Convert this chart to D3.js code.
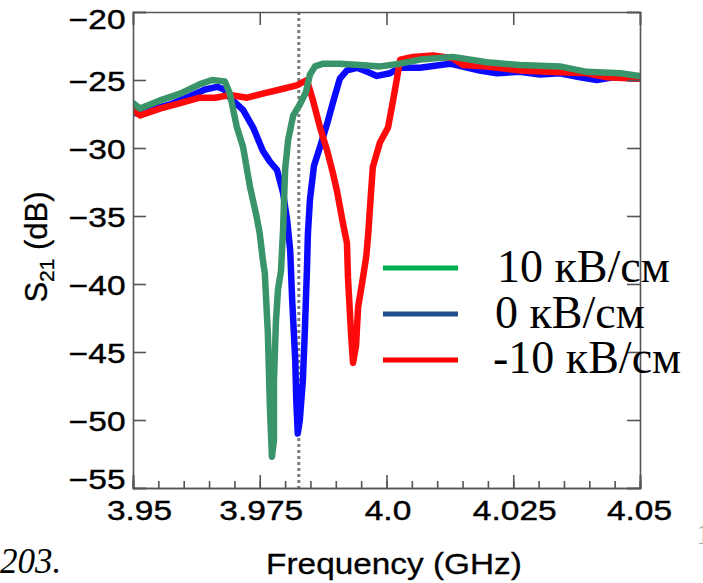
<!DOCTYPE html>
<html>
<head>
<meta charset="utf-8">
<script src="https://cdn.jsdelivr.net/npm/d3@7"></script>
<style>
  body { margin: 0; background: #fff; }
  svg { display: block; }
</style>
</head>
<body>
<svg id="chart" width="703" height="583"></svg>
<script>
// data: frequency (GHz) and S21 (dB) for each field
var freqPos = [3.95, 3.9514, 3.9553, 3.9593, 3.9632, 3.9656, 3.9681, 3.9691, 3.9705, 3.9717, 3.9731, 3.9743, 3.975, 3.9756, 3.976, 3.9766, 3.977, 3.9774, 3.9778, 3.9778, 3.9782, 3.9786, 3.9792, 3.9796, 3.98, 3.9806, 3.9816, 3.9829, 3.9841, 3.9849, 3.9859, 3.9875, 3.9908, 3.9948, 3.9987, 4.0027, 4.0066, 4.0131, 4.0198, 4.0263, 4.0342, 4.0395, 4.0461, 4.05]
var s21Pos = [-26.7, -27.1, -26.5, -26.0, -25.3, -25.0, -25.1, -26.0, -28.5, -29.9, -32.9, -34.9, -36.3, -38.2, -39.2, -43.6, -49.0, -52.7, -51.5, -47.1, -42.7, -40.4, -39.0, -36.0, -31.6, -29.4, -27.6, -26.8, -25.9, -24.6, -24.0, -23.8, -23.8, -23.9, -24.0, -23.8, -23.5, -23.3, -23.7, -23.9, -24.0, -24.4, -24.5, -24.7]

var freqZero = [3.95, 3.9514, 3.9534, 3.9573, 3.9612, 3.9642, 3.9666, 3.968, 3.9691, 3.9717, 3.9737, 3.9756, 3.977, 3.9784, 3.9796, 3.9804, 3.981, 3.9814, 3.982, 3.9822, 3.9825, 3.9829, 3.9835, 3.9839, 3.9843, 3.9845, 3.9849, 3.9857, 3.9869, 3.9883, 3.9894, 3.9908, 3.9922, 3.9942, 3.9962, 3.9981, 4.0007, 4.0027, 4.0066, 4.0125, 4.0184, 4.0218, 4.0263, 4.0303, 4.0342, 4.0382, 4.0415, 4.0447, 4.05]
var s21Zero = [-27.4, -27.5, -27.2, -26.8, -26.2, -25.7, -25.5, -25.7, -26.3, -27.2, -28.5, -30.2, -31.0, -31.6, -33.3, -35.3, -37.5, -41.2, -45.6, -48.5, -51.0, -50.0, -47.1, -43.4, -39.0, -36.3, -33.8, -31.3, -29.9, -28.2, -26.7, -24.9, -24.3, -24.1, -24.4, -24.7, -24.5, -24.1, -24.1, -23.8, -24.3, -24.5, -24.4, -24.6, -24.5, -24.8, -25.0, -24.8, -24.9]

var freqNeg = [3.95, 3.9514, 3.9553, 3.9593, 3.9632, 3.9662, 3.9691, 3.9725, 3.9756, 3.979, 3.9823, 3.9843, 3.9855, 3.9869, 3.9883, 3.9894, 3.9902, 3.9914, 3.9922, 3.9924, 3.993, 3.9934, 3.994, 3.9944, 3.9952, 3.996, 3.9964, 3.9967, 3.9973, 3.9987, 4.0003, 4.0013, 4.0021, 4.0027, 4.0052, 4.0092, 4.0131, 4.0151, 4.0198, 4.0263, 4.0317, 4.0395, 4.0435, 4.05]
var s21Neg = [-27.2, -27.6, -27.1, -26.7, -26.3, -26.3, -26.1, -26.3, -26.0, -25.7, -25.4, -25.0, -26.5, -28.5, -30.2, -31.8, -33.1, -35.5, -37.0, -39.5, -43.6, -45.8, -44.5, -41.7, -39.9, -38.0, -36.3, -34.6, -31.4, -29.6, -28.5, -26.5, -24.8, -23.5, -23.3, -23.2, -23.4, -23.9, -24.0, -24.3, -24.4, -24.5, -24.8, -24.9]

var xTicks = [3.95, 3.975, 4.0, 4.025, 4.05]
var xTickLabels = ["3.95", "3.975", "4.0", "4.025", "4.05"]
var yTicks = [-20, -25, -30, -35, -40, -45, -50, -55]
var legendLabels = ["10 кВ/см", "0 кВ/см", "-10 кВ/см"]
var markerFreq = 3.9827

var svg = d3.select("#chart")

var x = d3.scaleLinear().domain([3.95, 4.05]).range([133, 640])
var y = d3.scaleLinear().domain([-55, -20]).range([488, 12])

var frameColor = "#555"
var tickFont = "'Liberation Sans', Arial, sans-serif"

// dotted marker line
svg.append("line")
  .attr("x1", x(markerFreq)).attr("x2", x(markerFreq))
  .attr("y1", y(-20)).attr("y2", y(-55))
  .attr("stroke", "#7c7c7c")
  .attr("stroke-width", 3)
  .attr("stroke-dasharray", "3,3")

// curves (blue under red under green)
var line = d3.line()
  .x(function(d) { return x(d[0]) })
  .y(function(d) { return y(d[1]) })

var series = [
  { f: freqZero, s: s21Zero, color: "#0a0aff" },
  { f: freqNeg, s: s21Neg, color: "#ff0a0a" },
  { f: freqPos, s: s21Pos, color: "#3a946a" }
]

svg.append("clipPath").attr("id", "plotclip")
  .append("rect").attr("x", 133).attr("y", 12).attr("width", 507).attr("height", 476)

svg.append("g").attr("clip-path", "url(#plotclip)")
  .selectAll("path")
  .data(series)
  .join("path")
  .attr("d", function(d) { return line(d3.zip(d.f, d.s)) })
  .attr("fill", "none")
  .attr("stroke", function(d) { return d.color })
  .attr("stroke-width", 6.5)
  .attr("stroke-linejoin", "round")
  .attr("stroke-linecap", "round")

// axes
var minorTicks = d3.range(3.95, 4.0501, 0.005)

svg.append("g").attr("transform", "translate(0,488)")
  .call(d3.axisBottom(x).tickValues(minorTicks).tickSize(-7).tickFormat(""))

var gBottom = svg.append("g").attr("transform", "translate(0,488)")
  .call(d3.axisBottom(x).tickValues(xTicks).tickSize(-13).tickPadding(13)
    .tickFormat(function(d, i) { return xTickLabels[i] }))

svg.append("g").attr("transform", "translate(0,12)")
  .call(d3.axisTop(x).tickValues(xTicks).tickSize(-13).tickFormat(""))

var gLeft = svg.append("g").attr("transform", "translate(133,0)")
  .call(d3.axisLeft(y).tickValues(yTicks).tickSize(-13).tickPadding(6)
    .tickFormat(function(d) { return d < 0 ? "\u2212" + Math.abs(d) : d }))

svg.append("g").attr("transform", "translate(640,0)")
  .call(d3.axisRight(y).tickValues(yTicks).tickSize(-13).tickFormat(""))

svg.selectAll(".domain, .tick line")
  .attr("stroke", frameColor)
  .attr("stroke-width", 1.6)

svg.selectAll(".tick text")
  .attr("font-family", tickFont)
  .attr("font-size", 27)
  .attr("fill", "#000")
  .attr("stroke", "#000")
  .attr("stroke-width", 0.4)

// end labels are nudged inside like in the original
gLeft.selectAll(".tick text")
  .attr("transform", function(d) {
    var dy = d === -20 ? 8 : (d === -55 ? -8 : 2)
    return "translate(0," + dy + ") scale(1.24,1)"
  })
gBottom.selectAll(".tick text")
  .attr("transform", function(d) {
    var dx = d === 3.95 ? 6 : (d === 4.05 ? -1 : 1)
    return "translate(" + dx + ",0) scale(1.24,1)"
  })

// axis titles
svg.append("text")
  .attr("x", 394).attr("y", 574)
  .attr("text-anchor", "middle")
  .attr("font-family", tickFont)
  .attr("font-size", 29)
  .attr("fill", "#000")
  .attr("stroke", "#000")
  .attr("stroke-width", 0.3)
  .attr("transform", "translate(394,0) scale(1.15,1) translate(-394,0)")
  .text("Frequency (GHz)")

var yTitle = svg.append("text")
  .attr("transform", "translate(47,247) rotate(-90)")
  .attr("text-anchor", "middle")
  .attr("font-family", tickFont)
  .attr("font-size", 31)
  .attr("fill", "#000")
  .attr("stroke", "#000")
  .attr("stroke-width", 0.3)
yTitle.append("tspan").text("S")
yTitle.append("tspan").attr("font-size", 21).attr("dy", 7).text("21")
yTitle.append("tspan").attr("dy", -7).text(" (dB)")

// legend
var legendColors = ["#00b050", "#1f4e8c", "#ff0000"]
var legend = svg.append("g")
legend.selectAll("line")
  .data(legendLabels)
  .join("line")
  .attr("x1", 383).attr("x2", 458)
  .attr("y1", function(d, i) { return 268 + i * 46 })
  .attr("y2", function(d, i) { return 268 + i * 46 })
  .attr("stroke", function(d, i) { return legendColors[i] })
  .attr("stroke-width", 5)

legend.selectAll("text")
  .data(legendLabels)
  .join("text")
  .attr("x", function(d, i) { return 497 - i * 2 })
  .attr("y", function(d, i) { return 282 + i * 45.5 })
  .attr("font-family", "'Liberation Serif', 'Times New Roman', serif")
  .attr("font-size", 46)
  .attr("fill", "#000")
  .text(function(d) { return d })

// page fragments around the figure
svg.append("text")
  .attr("x", 0).attr("y", 573)
  .attr("font-family", "'Liberation Serif', 'Times New Roman', serif")
  .attr("font-style", "italic")
  .attr("font-size", 35)
  .attr("fill", "#000")
  .text("203.")

svg.append("text")
  .attr("x", 696).attr("y", 544)
  .attr("font-family", "'Liberation Serif', 'Times New Roman', serif")
  .attr("font-size", 30)
  .attr("fill", "#aaa")
  .text("1")
</script>
</body>
</html>
